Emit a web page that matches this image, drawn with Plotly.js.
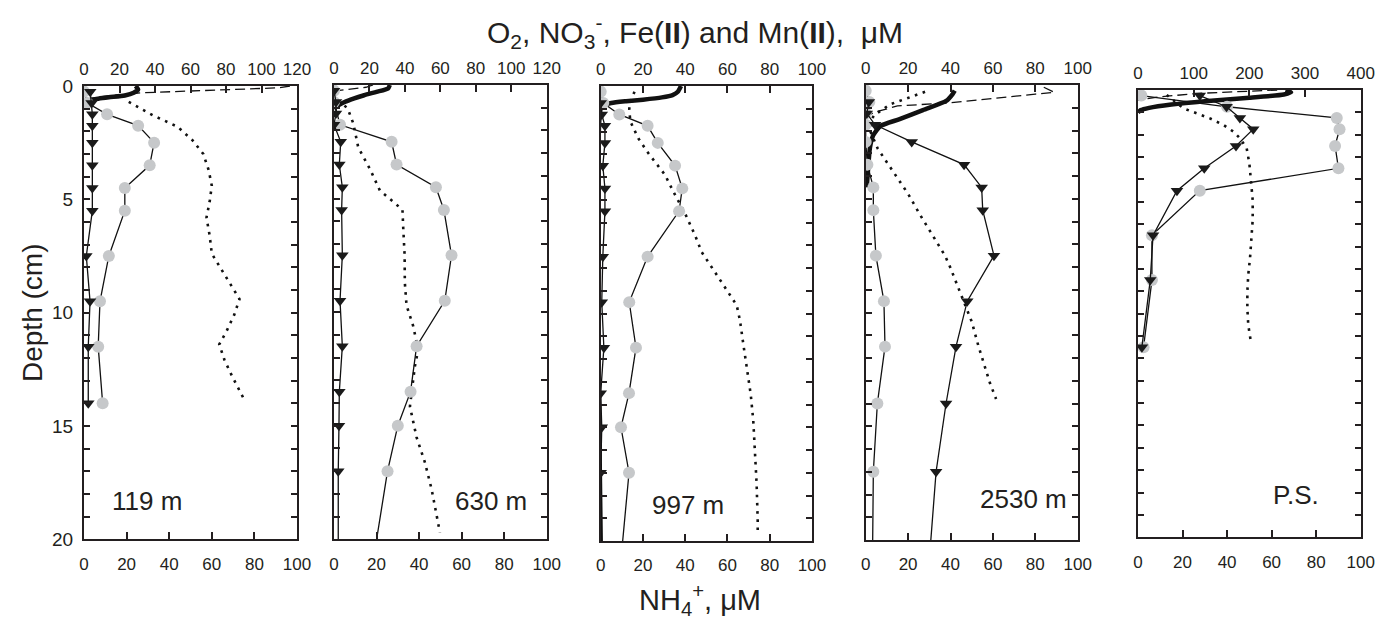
<!DOCTYPE html>
<html><head><meta charset="utf-8">
<script src="https://cdn.plot.ly/plotly-3.0.1.min.js"></script>
<style>html,body{margin:0;padding:0;background:#fff;}#chart{width:1380px;height:619px;}</style>
</head><body><div id="chart"></div>
<script>
// ---------- DATA (depth in cm, concentrations in µM) ----------
const stations = ["119 m", "630 m", "997 m", "2530 m", "P.S."];
const topRanges = [120, 120, 100, 100, 400];
const topTickStep = [20, 20, 20, 20, 100];
const depthLabels = [0, 5, 10, 15, 20];

// Panel 1 : 119 m
const o2Depth1 = [0, 0.15, 0.3, 0.42, 0.5, 0.56, 0.62, 0.72];
const o2Val1   = [29, 30.5, 28, 23, 14, 8, 3.5, 0];
const no3Depth1 = [0, 0.08, 0.3, 0.45, 0.6];
const no3Val1   = [116, 110, 32, 12, 0];
const nh4Depth1 = [0.7, 1.3, 1.8, 2.4, 3.0, 3.7, 4.4, 5.1, 5.8, 6.6, 7.4, 8.0, 8.7, 9.4, 10.1, 10.8, 11.4, 12.1, 12.8, 13.4, 13.8];
const nh4Val1   = [21, 32.5, 44, 51, 56, 58.5, 60, 59, 57.5, 59, 60, 64, 68.5, 73, 70.5, 67, 63.5, 66, 69.5, 73, 75];
const feDepth1 = [0.25, 0.75, 1.25, 1.75, 2.5, 3.5, 4.5, 5.5, 7.5, 9.5, 11.5, 14];
const feVal1   = [0, 2, 13, 30.5, 39.5, 37, 23, 23, 14, 9, 8, 10.5];
const mnDepth1 = [0.25, 0.75, 1.25, 1.75, 2.5, 3.5, 4.5, 5.5, 7.5, 9.5, 11.5, 14];
const mnVal1   = [3.5, 4.3, 4.7, 4.7, 4.7, 4.7, 4.7, 4.7, 1.3, 3.4, 2.4, 2.4];

// Panel 2 : 630 m
const o2Depth2 = [0, 0.15, 0.3, 0.45, 0.6, 0.75, 0.9, 1.05];
const o2Val2   = [31.5, 30.5, 24, 17, 11, 6, 2.4, 0];
const no3Depth2 = [0, 0.1, 0.25, 0.35];
const no3Val2   = [22, 18, 2, 0];
const nh4Depth2 = [0.9, 1.1, 1.7, 2.75, 3.7, 4.65, 5.2, 5.5, 6.2, 7.5, 8.7, 9.7, 10.6, 11.65, 12.4, 13.4, 14.15, 15.5, 16.6, 17.8, 18.9, 19.7];
const nh4Val2   = [5, 6.7, 9.1, 11.4, 16.9, 21.6, 28.6, 32.2, 32.5, 33.2, 33.3, 34.1, 37.2, 39.6, 38, 36.5, 35.7, 38.8, 42.7, 45.9, 48.2, 49.8];
const feDepth2 = [0.25, 0.75, 1.75, 2.5, 3.5, 4.5, 5.5, 7.5, 9.5, 11.5, 13.5, 15, 17, 21];
const feVal2   = [0, 0, 3.4, 32.5, 35.3, 57.5, 62, 66.3, 62.5, 46.6, 43.2, 36, 30.2, 22];
const mnDepth2 = [0.25, 0.75, 1.25, 1.75, 2.5, 3.5, 4.5, 5.5, 7.5, 9.5, 11.5, 13.5, 15, 17, 21];
const mnVal2   = [0, 1.1, 1.1, 0, 3.8, 3, 4.7, 4.3, 4.7, 3.4, 4.7, 3, 2.8, 2.4, 2.4];

// Panel 3 : 997 m
const o2Depth3 = [0, 0.25, 0.4, 0.5, 0.6, 0.67, 0.75, 0.85, 1.0, 20];
const o2Val3   = [38, 36.5, 34, 29, 20, 12, 5, 1.5, 0, 0];
const no3Depth3 = [];
const no3Val3   = [];
const nh4Depth3 = [0.25, 0.6, 1.0, 1.55, 2.3, 2.95, 3.9, 4.65, 5.6, 6.55, 7.3, 7.95, 8.6, 9.3, 9.65, 10.3, 11.35, 12.3, 13.55, 14.7, 16.05, 17.5, 19.1, 19.7];
const nh4Val3   = [16, 14.5, 13.5, 14, 17.8, 22.5, 30.4, 34.4, 39.9, 44.6, 47.8, 52.5, 57.3, 62, 64.4, 65.9, 67.5, 69.1, 71, 72.2, 73, 73.8, 74.3, 74.3];
const feDepth3 = [0.25, 0.75, 1.25, 1.75, 2.5, 3.5, 4.5, 5.5, 7.5, 9.5, 11.5, 13.5, 15, 17, 21];
const feVal3   = [0, 1.2, 8.8, 22.2, 27, 35.2, 38.6, 37.1, 22.2, 13.5, 16.7, 13.4, 9.6, 13.4, 9.4];
const mnDepth3 = [0.75, 1.25, 1.75, 2.5, 3.5, 4.5, 5.5, 7.5, 9.5, 11.5, 13.5, 15, 17, 21];
const mnVal3   = [0, 0.5, 2, 2, 1, 2, 2, 1, 0.5, 1.5, 0, 0.5, 0, 0];

// Panel 4 : 2530 m
const o2Depth4 = [0.25, 0.4, 0.7, 1.1, 1.5, 1.8, 2.2, 2.75, 3.6, 4.5];
const o2Val4   = [42, 41, 38, 27, 16, 7, 3.6, 2, 1.2, 0.5];
const no3Depth4 = [0.1, 0.2, 0.32, 0.4, 0.56, 0.78, 0.92, 1.2, 1.4];
const no3Val4   = [84, 86, 89, 80, 63, 40, 15, 4, 0];
const nh4Depth4 = [0.3, 0.85, 1.35, 2.0, 2.8, 3.4, 4.1, 4.8, 5.7, 6.4, 7.05, 7.5, 8.0, 8.75, 9.5, 10.4, 11.45, 12.4, 13.1, 13.8];
const nh4Val4   = [28, 11.5, 3.6, 2, 5.7, 10, 15.1, 20.1, 25.6, 30.3, 34.3, 37.4, 39.8, 42.9, 46, 50, 53.1, 56.3, 58.6, 61.5];
const feDepth4 = [0.25, 0.75, 1.25, 1.75, 2.5, 3.5, 4.5, 5.5, 7.5, 9.5, 11.5, 14, 17, 21];
const feVal4   = [0, 1.7, 0, 0, 0, 0.8, 3.6, 3.6, 4.8, 8.6, 9.1, 5.5, 3.6, 3.2];
const mnDepth4 = [0.75, 1.25, 1.75, 2.5, 3.5, 4.5, 5.5, 7.5, 9.5, 11.5, 14, 17, 21];
const mnVal4   = [1.5, 0.5, 4.4, 21.7, 46.4, 54.7, 55.2, 60.5, 47.9, 42.6, 37.9, 33.2, 29.9];

// Panel 5 : P.S.
const o2Depth5 = [0, 0.1, 0.2, 0.35, 0.5, 0.65, 0.8, 0.9, 1.0];
const o2Val5   = [265, 275, 262, 200, 120, 60, 20, 5, 0];
const no3Depth5 = [0, 0.05, 0.15, 0.3, 0.45];
const no3Val5   = [250, 200, 110, 40, 0];
const nh4Depth5 = [0.22, 0.82, 1.04, 1.27, 1.56, 1.86, 2.16, 2.61, 3.28, 4.02, 4.92, 5.81, 6.7, 7.52, 8.27, 9.02, 9.76, 10.5, 11.2];
const nh4Val5   = [12.9, 20.4, 26.3, 32.3, 38.3, 42.8, 45.8, 48.8, 50, 50.6, 51.5, 51.5, 51, 50.3, 49.5, 49.1, 49.1, 49.5, 50.6];
const feDepth5 = [0.25, 0.75, 1.25, 1.75, 2.5, 3.5, 4.5, 6.5, 8.5, 11.5];
const feVal5   = [6, 160, 357, 362, 354, 360, 111, 25, 25, 10];
const mnDepth5 = [0.25, 0.75, 1.25, 1.75, 2.5, 3.5, 4.5, 6.5, 8.5, 11.5];
const mnVal5   = [111, 159, 183, 207, 176, 119, 70, 27, 22, 7];

// ---------- LAYOUT GEOMETRY (pixels) ----------
const W = 1380, H = 619;
const panelX = [[84, 297], [334, 546.7], [600.7, 812], [865.7, 1077.7], [1138, 1360.7]];
const panelY = [[86, 539.3], [85, 539.3], [86, 541], [85, 540], [90, 537.3]];
const labelPos = [[29.6, 18.3], [73.6, 18.3], [41.2, 18.4], [74.5, 18.2], [70.9, 18.1]];

const panels = [
  {o2:[o2Depth1,o2Val1], no3:[no3Depth1,no3Val1], nh4:[nh4Depth1,nh4Val1], fe:[feDepth1,feVal1], mn:[mnDepth1,mnVal1]},
  {o2:[o2Depth2,o2Val2], no3:[no3Depth2,no3Val2], nh4:[nh4Depth2,nh4Val2], fe:[feDepth2,feVal2], mn:[mnDepth2,mnVal2]},
  {o2:[o2Depth3,o2Val3], no3:[no3Depth3,no3Val3], nh4:[nh4Depth3,nh4Val3], fe:[feDepth3,feVal3], mn:[mnDepth3,mnVal3]},
  {o2:[o2Depth4,o2Val4], no3:[no3Depth4,no3Val4], nh4:[nh4Depth4,nh4Val4], fe:[feDepth4,feVal4], mn:[mnDepth4,mnVal4]},
  {o2:[o2Depth5,o2Val5], no3:[no3Depth5,no3Val5], nh4:[nh4Depth5,nh4Val5], fe:[feDepth5,feVal5], mn:[mnDepth5,mnVal5]}
];

const INK = '#231f20';
const FONT = 'Liberation Sans, Arial, Helvetica, sans-serif';
const traces = [];
const layout = {
  width: W, height: H,
  margin: {l: 0, r: 0, t: 0, b: 0, pad: 0},
  paper_bgcolor: '#fff', plot_bgcolor: 'rgba(0,0,0,0)',
  showlegend: false,
  font: {family: FONT, color: INK, size: 17},
  annotations: []
};

panels.forEach((p, i) => {
  const n = i + 1;
  const xb = n === 1 ? 'x' : 'x' + n;       // bottom axis (NH4+)
  const xt = 'x' + (n + 5);                  // top axis (O2, NO3-, Fe, Mn)
  const ya = n === 1 ? 'y' : 'y' + n;
  const xbKey = n === 1 ? 'xaxis' : 'xaxis' + n;
  const xtKey = 'xaxis' + (n + 5);
  const yKey = n === 1 ? 'yaxis' : 'yaxis' + n;

  const xd = [panelX[i][0] / W, panelX[i][1] / W];
  const yd = [1 - panelY[i][1] / H, 1 - panelY[i][0] / H];

  layout[xbKey] = {
    domain: xd, anchor: ya, range: [0, 100], autorange: false,
    tickvals: [0, 20, 40, 60, 80, 100], ticks: 'inside', ticklen: 7, tickwidth: 2, tickcolor: INK,
    showline: true, linewidth: 2, linecolor: INK, mirror: false,
    showgrid: false, zeroline: false, tickfont: {size: 17, family: FONT, color: INK},
    ticklabelstandoff: 8
  };
  const tr = topRanges[i], ts = topTickStep[i];
  const tv = []; for (let v = 0; v <= tr; v += ts) tv.push(v);
  layout[xtKey] = {
    overlaying: xb, side: 'top', anchor: ya, range: [0, tr], autorange: false,
    tickvals: tv, ticks: 'inside', ticklen: 7, tickwidth: 2, tickcolor: INK,
    showline: true, linewidth: 2, linecolor: INK,
    showgrid: false, zeroline: false, tickfont: {size: 17, family: FONT, color: INK},
    ticklabelstandoff: 2
  };
  layout[yKey] = {
    domain: yd, anchor: xb, range: [20, 0], autorange: false,
    tickvals: depthLabels,
    showticklabels: n === 1,
    ticks: 'inside', ticklen: 6, tickwidth: 2, tickcolor: INK,
    minor: {dtick: 1, ticks: 'inside', ticklen: 6, tickwidth: 2, tickcolor: INK, showgrid: false},
    showline: true, linewidth: 2, linecolor: INK, mirror: 'ticks',
    showgrid: false, zeroline: false, tickfont: {size: 19, family: FONT, color: INK},
    ticklabelstandoff: 5
  };

  // NH4+ (dotted, bottom axis)
  traces.push({x: p.nh4[1], y: p.nh4[0], xaxis: xb, yaxis: ya, mode: 'lines', type: 'scatter',
    line: {color: '#111', width: 2.6, dash: '2.6px,5.6px'}, hoverinfo: 'skip'});
  // NO3- (dashed, top axis)
  if (p.no3[0].length) traces.push({x: p.no3[1], y: p.no3[0], xaxis: xt, yaxis: ya, mode: 'lines', type: 'scatter',
    line: {color: '#111', width: 1.3, dash: '10px,5px'}, hoverinfo: 'skip'});
  // O2 (thick solid, top axis)
  traces.push({x: p.o2[1], y: p.o2[0], xaxis: xt, yaxis: ya, mode: 'lines', type: 'scatter',
    line: {color: '#111', width: 4.5, shape: 'spline', smoothing: 0.6}, hoverinfo: 'skip'});
  // Fe(II) (grey circles, top axis)
  traces.push({x: p.fe[1], y: p.fe[0], xaxis: xt, yaxis: ya, mode: 'lines+markers', type: 'scatter',
    line: {color: '#111', width: 1.3},
    marker: {symbol: 'circle', size: 12, color: '#c6c8ca', line: {width: 0}}, hoverinfo: 'skip'});
  // Mn(II) (black down-triangles, top axis)
  traces.push({x: p.mn[1], y: p.mn[0], xaxis: xt, yaxis: ya, mode: 'lines+markers', type: 'scatter',
    line: {color: '#111', width: 1.3},
    marker: {symbol: 'triangle-down', size: 11, color: '#1a1a1a', line: {width: 0}}, hoverinfo: 'skip'});

  layout.annotations.push({
    xref: xb, yref: ya, x: labelPos[i][0], y: labelPos[i][1], text: stations[i],
    showarrow: false, xanchor: 'center', yanchor: 'middle',
    font: {size: 26, family: FONT, color: INK}
  });
});

layout.annotations.push(
  {xref: 'paper', yref: 'paper', x: 695 / W, y: 1 - 32 / H, showarrow: false,
   xanchor: 'center', yanchor: 'middle',
   text: 'O<sub>2</sub>, NO<sub>3</sub><sup>-</sup>, Fe(<b>II</b>) and Mn(<b>II</b>),  μM',
   font: {size: 30, family: FONT, color: INK}},
  {xref: 'paper', yref: 'paper', x: 700 / W, y: 1 - 600 / H, showarrow: false,
   xanchor: 'center', yanchor: 'middle',
   text: 'NH<sub>4</sub><sup>+</sup>, μM',
   font: {size: 29, family: FONT, color: INK}},
  {xref: 'paper', yref: 'paper', x: 32 / W, y: 1 - 313 / H, showarrow: false,
   xanchor: 'center', yanchor: 'middle', textangle: -90,
   text: 'Depth (cm)',
   font: {size: 28, family: FONT, color: INK}}
);

Plotly.newPlot('chart', traces, layout, {staticPlot: true, displayModeBar: false});
</script>
</body></html>
